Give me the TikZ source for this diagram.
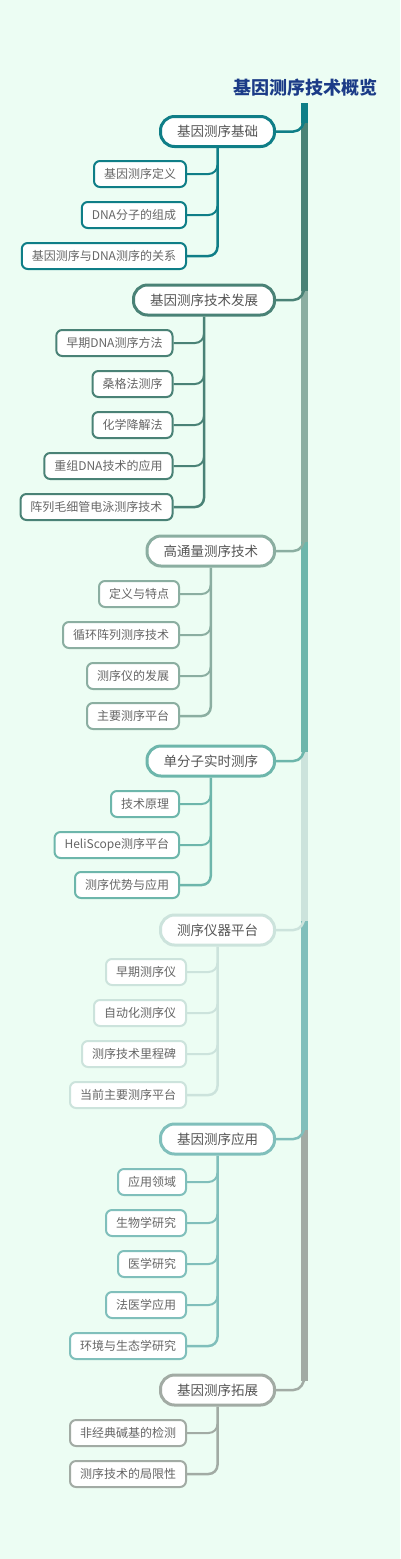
\documentclass[tikz,border=0pt]{standalone}
\usepackage{fontspec}
\setmainfont{Noto Sans CJK SC}
\definecolor{bg}{HTML}{ECFDF3}
\definecolor{ttl}{HTML}{1B3B87}
\definecolor{ca}{HTML}{0F7E87}
\definecolor{cb}{HTML}{4A8276}
\definecolor{cc}{HTML}{8BAEA1}
\definecolor{cd}{HTML}{6DB6AB}
\definecolor{ce}{HTML}{CCE3DC}
\definecolor{cf}{HTML}{80BFBB}
\definecolor{cg}{HTML}{A2ABA4}
\definecolor{tbranch}{HTML}{555555}
\definecolor{tchild}{HTML}{666666}
\tikzset{
  branchbox/.style={draw=#1, line width=3pt, fill=white, rounded corners=14pt, minimum height=30pt,
    inner xsep=16.5pt, inner ysep=0pt, anchor=east, text=tbranch, font=\fontsize{13.5}{14}\selectfont},
  childbox/.style={draw=#1, line width=2pt, fill=white, rounded corners=6pt, minimum height=26pt,
    inner xsep=10pt, inner ysep=0pt, anchor=east, text=tchild, font=\fontsize{12}{13}\selectfont},
  trunkline/.style={line width=6.5pt},
  linkline/.style={line width=2.5pt},
  subline/.style={line width=2.5pt},
  twig/.style={line width=2pt},
}
\begin{document}
\begin{tikzpicture}[x=1pt,y=-1pt]
\fill[bg] (0,0) rectangle (400,1559);
\useasboundingbox (0,0) rectangle (400,1559);

\node[text=ttl, font=\fontsize{18}{20}\selectfont\bfseries] (title) at (305,88) {基因测序技术概览};
\coordinate (top) at (304.5,103);

% branch nodes
\node[branchbox=ca] (b1) at (276,131.5) {基因测序基础};
\node[branchbox=cb] (b2) at (276,300) {基因测序技术发展};
\node[branchbox=cc] (b3) at (276,551) {高通量测序技术};
\node[branchbox=cd] (b4) at (276,761) {单分子实时测序};
\node[branchbox=ce] (b5) at (276,930) {测序仪器平台};
\node[branchbox=cf] (b6) at (276,1139) {基因测序应用};
\node[branchbox=cg] (b7) at (276,1390) {基因测序拓展};

% children
\node[childbox=ca] (c11) at (187,174) {基因测序定义};
\node[childbox=ca] (c12) at (187,215) {DNA分子的组成};
\node[childbox=ca] (c13) at (187,256) {基因测序与DNA测序的关系};

\node[childbox=cb] (c21) at (173.5,343) {早期DNA测序方法};
\node[childbox=cb] (c22) at (173.5,384) {桑格法测序};
\node[childbox=cb] (c23) at (173.5,425) {化学降解法};
\node[childbox=cb] (c24) at (173.5,466) {重组DNA技术的应用};
\node[childbox=cb] (c25) at (173.5,507) {阵列毛细管电泳测序技术};

\node[childbox=cc] (c31) at (180,594) {定义与特点};
\node[childbox=cc] (c32) at (180,635) {循环阵列测序技术};
\node[childbox=cc] (c33) at (180,676) {测序仪的发展};
\node[childbox=cc] (c34) at (180,716) {主要测序平台};

\node[childbox=cd] (c41) at (180,804) {技术原理};
\node[childbox=cd] (c42) at (180,845) {HeliScope测序平台};
\node[childbox=cd] (c43) at (180,885) {测序优势与应用};

\node[childbox=ce] (c51) at (187,972) {早期测序仪};
\node[childbox=ce] (c52) at (187,1013) {自动化测序仪};
\node[childbox=ce] (c53) at (187,1054) {测序技术里程碑};
\node[childbox=ce] (c54) at (187,1095) {当前主要测序平台};

\node[childbox=cf] (c61) at (187,1182) {应用领域};
\node[childbox=cf] (c62) at (187,1223) {生物学研究};
\node[childbox=cf] (c63) at (187,1264) {医学研究};
\node[childbox=cf] (c64) at (187,1305) {法医学应用};
\node[childbox=cf] (c65) at (187,1346) {环境与生态学研究};

\node[childbox=cg] (c71) at (187,1433) {非经典碱基的检测};
\node[childbox=cg] (c72) at (187,1474) {测序技术的局限性};

% trunk segments (drawn bottom-up so upper colours lie on top)
\foreach \b/\c/\ya in {b7/cg/1128,b6/cf/919,b5/ce/750,b4/cd/540,b3/cc/289,b2/cb/120.5}{
  \draw[trunkline, \c] (top |- 0,\ya) -- ([yshift=9pt]top |- \b.east);
  \draw[linkline, \c] ([yshift=14pt]top |- \b.east) to[out=-90,in=0] ([xshift=-11pt]top |- \b.east) -- (\b.east);
}
\draw[trunkline, ca] (top) -- ([yshift=9pt]top |- b1.east);
\draw[linkline, ca] ([yshift=14pt]top |- b1.east) to[out=-90,in=0] ([xshift=-11pt]top |- b1.east) -- (b1.east);

% sub-branches
\foreach \b/\c/\last/\others in {
  b1/ca/c13/{c11,c12},
  b2/cb/c25/{c21,c22,c23,c24},
  b3/cc/c34/{c31,c32,c33},
  b4/cd/c43/{c41,c42},
  b5/ce/c54/{c51,c52,c53},
  b6/cf/c65/{c61,c62,c63,c64},
  b7/cg/c72/{c71}}{
  \draw[subline, \c] (\b.south) -- ([yshift=9pt]\b.south |- \last.east) to[out=-90,in=0] ([xshift=-9pt]\b.south |- \last.east) -- (\last.east);
  \foreach \k in \others {
    \draw[twig, \c] ([yshift=9pt]\b.south |- \k.east) to[out=-90,in=0] ([xshift=-9pt]\b.south |- \k.east) -- (\k.east);
  }
}
\end{tikzpicture}
\end{document}
